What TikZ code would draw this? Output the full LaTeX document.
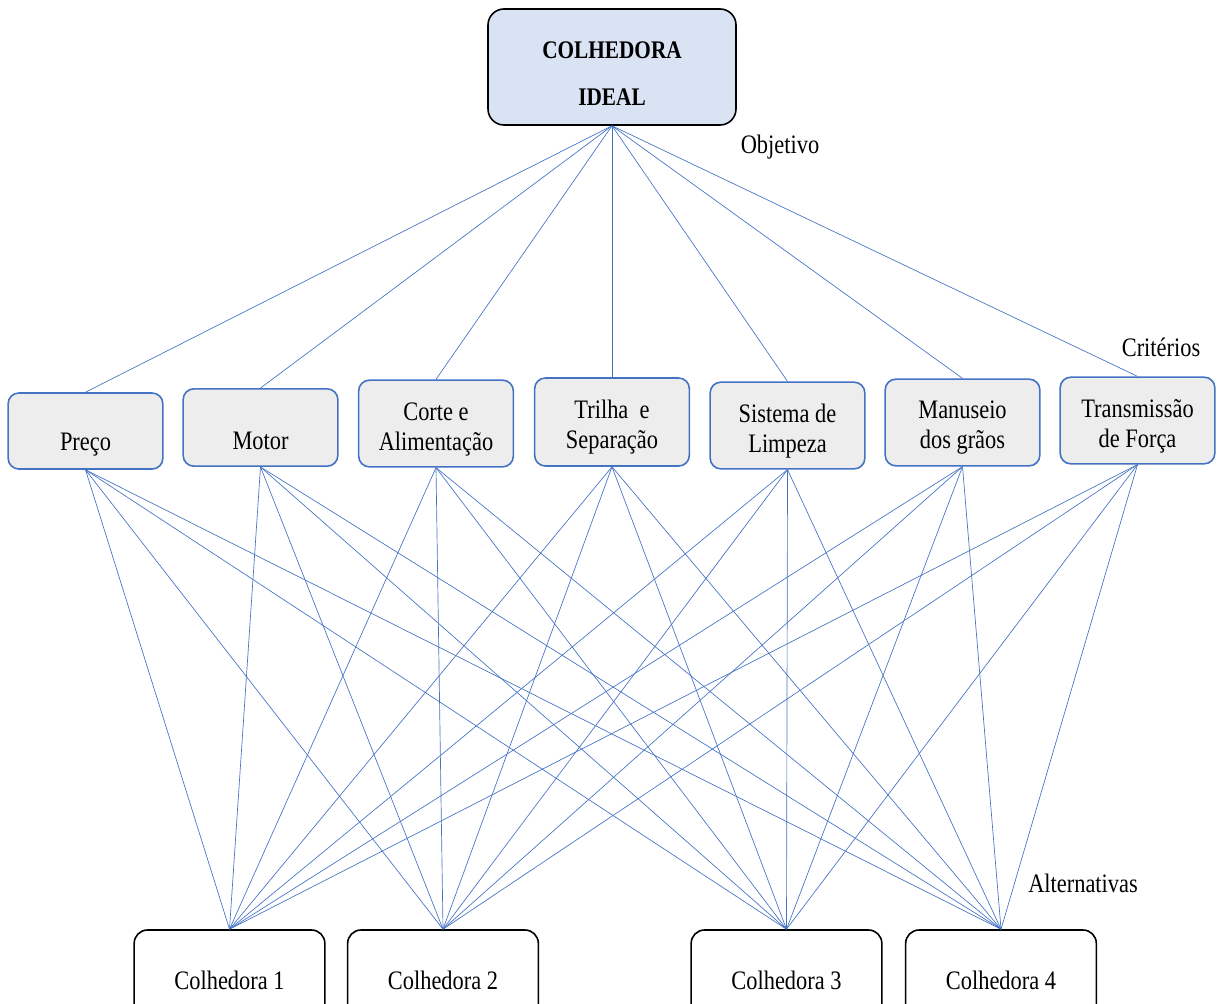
\documentclass[tikz,border=0pt]{standalone}
\usepackage{fontspec}
\setmainfont[FakeStretch=0.84]{Liberation Serif}
\usetikzlibrary{positioning}
\definecolor{edgeblue}{HTML}{4472C4}
\definecolor{goalfill}{HTML}{DAE3F3}
\definecolor{critfill}{HTML}{EDEDED}

\begin{document}
\begin{tikzpicture}[x=0.75pt,y=-0.75pt,
    goal/.style={
      draw=black,
      line width=1.2pt,
      rounded corners=12pt,
      fill=goalfill,
      minimum width=186pt,
      minimum height=87pt,
      align=center,
      execute at begin node={\rule{0pt}{58pt}},
      font=\bfseries\fontsize{19}{35}\selectfont
    },
    critbase/.style={
      draw=edgeblue,
      line width=1.2pt,
      rounded corners=8pt,
      fill=critfill,
      minimum width=116pt,
      minimum height=65pt,
      align=center,
      font=\fontsize{20}{22.5}\selectfont
    },
    crit/.style={
      critbase,
      execute at begin node={\rule{0pt}{44pt}}
    },
    critlow/.style={
      critbase,
      execute at begin node={\rule{0pt}{33pt}}
    },
    alt/.style={
      draw=black,
      line width=1.2pt,
      rounded corners=10pt,
      fill=white,
      minimum width=143pt,
      minimum height=75pt,
      font=\fontsize{20}{22.5}\selectfont
    },
    link/.style={draw=edgeblue, line width=0.5pt},
    tag/.style={font=\fontsize{20}{22.5}\selectfont}]
    \useasboundingbox (0,0) rectangle (1219,1003);
    \clip (0,0) rectangle (1219,1003);

    % objetivo
    \node[goal] at (612,67) (goal) {COLHEDORA\\IDEAL};

    % criterios
    \node[critlow, minimum height=57pt] at (85.5,431) (preco) {\\Preço};
    \node[critlow, minimum height=58pt] at (260.5,427.5) (motor) {\\Motor};
    \node[crit] at (436,423.5) (corte) {Corte e\\Alimentação};
    \node[crit, minimum height=66pt] at (612,422) (trilha) {Trilha\ \ e\\Separação};
    \node[crit] at (787.5,425.5) (limpeza) {Sistema de\\Limpeza};
    \node[crit] at (962.5,422.5) (manuseio) {Manuseio\\dos grãos};
    \node[crit] at (1137.5,420.5) (forca) {Transmissão\\de Força};

    % alternativas
    \node[alt] at (229.5,980) (c1) {Colhedora 1};
    \node[alt] at (443,980) (c2) {Colhedora 2};
    \node[alt] at (786.5,980) (c3) {Colhedora 3};
    \node[alt] at (1001,980) (c4) {Colhedora 4};

    \node[tag] at (780,147) (objetivo) {Objetivo};
    \node[tag] at (1161,347) (criterios) {Critérios};
    \node[tag] at (1083,883) (alternativas) {Alternativas};

    \foreach \c in {preco,motor,corte,trilha,limpeza,manuseio,forca} {
      \draw[link] (goal.south) -- (\c.north);
      \foreach \a in {c1,c2,c3,c4}
        \draw[link] (\c.south) -- (\a.north);
    }
\end{tikzpicture}
\end{document}
